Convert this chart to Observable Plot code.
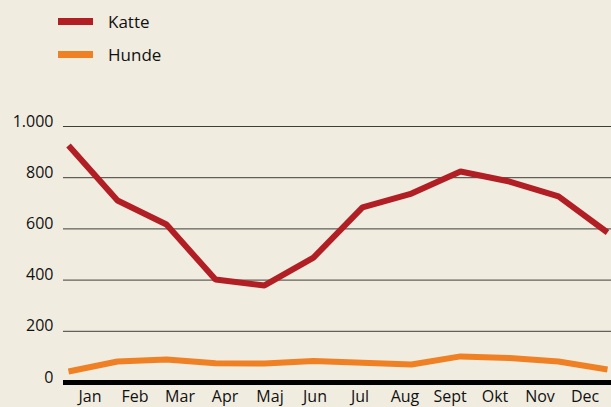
<!DOCTYPE html>
<html>
<head>
<meta charset="utf-8">
<script src="https://cdn.jsdelivr.net/npm/d3@7"></script>
<script src="https://cdn.jsdelivr.net/npm/@observablehq/plot@0.6"></script>
<style>
  html, body { margin: 0; padding: 0; background: #f0ece0; }
  #wrap { position: relative; width: 611px; height: 407px; overflow: hidden; font-family: "Open Sans", sans-serif; }
  #wrap svg { position: absolute; left: 0; top: 0; background: transparent; overflow: visible; }
  .legend { position: absolute; left: 0; top: 0; }
  .item { position: absolute; left: 58px; display: flex; align-items: center; font-size: 17px; color: #111; }
  .sw { width: 35px; height: 7px; margin-right: 15px; }
</style>
</head>
<body>
<div id="wrap">
  <div id="chart"></div>
  <div id="axis"></div>
  <div class="legend" id="legend"></div>
</div>
<script>
const months = ["Jan","Feb","Mar","Apr","Maj","Jun","Jul","Aug","Sept","Okt","Nov","Dec"];
const katte = [926, 711, 617, 402, 379, 488, 684, 738, 824, 785, 727, 586];
const hunde = [43, 82, 90, 75, 74, 84, 77, 70, 102, 96, 82, 51];
const seriesNames = ["Katte", "Hunde"];
const seriesColors = ["#b11f24", "#ef8024"];
const yTicks = [0, 200, 400, 600, 800, 1000];

const rows = [];
months.forEach((m, i) => {
  rows.push({month: m, value: katte[i], series: "Katte"});
  rows.push({month: m, value: hunde[i], series: "Hunde"});
});

const fmt = d => d.toLocaleString("de-DE");

const chart = Plot.plot({
  width: 611,
  height: 407,
  marginLeft: 63,
  marginRight: 0,
  marginTop: 126,
  marginBottom: 25,
  style: {background: "transparent", fontFamily: "Open Sans, sans-serif", fontSize: "16px", color: "#111", overflow: "visible"},
  x: {type: "point", domain: months, padding: 0, axis: null},
  y: {domain: [0, 1000]},
  color: {domain: seriesNames, range: seriesColors},
  marks: [
    Plot.ruleY(yTicks.filter(d => d > 0), {stroke: "#3e3e38", strokeWidth: 1}),
    Plot.axisY({ticks: yTicks, tickSize: 0, tickPadding: 10, dy: -5, tickFormat: fmt, label: null, fontSize: 16}),
    Plot.line(rows, {x: "month", y: "value", z: "series", stroke: "series", strokeWidth: 6, strokeLinejoin: "miter", strokeLinecap: "butt"}),
    Plot.ruleY([0], {stroke: "#000", strokeWidth: 5})
  ]
});
document.getElementById("chart").appendChild(chart);

const axis = Plot.plot({
  width: 611,
  height: 407,
  marginLeft: 63,
  marginRight: 0,
  marginTop: 126,
  marginBottom: 25,
  style: {background: "transparent", fontFamily: "Open Sans, sans-serif", fontSize: "16px", color: "#111", overflow: "visible"},
  x: {type: "band", domain: months, padding: 0},
  y: {domain: [0, 1000], axis: null},
  marks: [
    Plot.axisX({tickSize: 0, tickPadding: 8, label: null, fontSize: 16})
  ]
});
document.getElementById("axis").appendChild(axis);

const legend = document.getElementById("legend");
seriesNames.forEach((s, i) => {
  const item = document.createElement("div");
  item.className = "item";
  item.style.top = (10 + i * 33) + "px";
  item.style.height = "22px";
  const sw = document.createElement("span");
  sw.className = "sw";
  sw.style.background = seriesColors[i];
  const t = document.createElement("span");
  t.textContent = s;
  item.appendChild(sw);
  item.appendChild(t);
  legend.appendChild(item);
});
</script>
</body>
</html>
